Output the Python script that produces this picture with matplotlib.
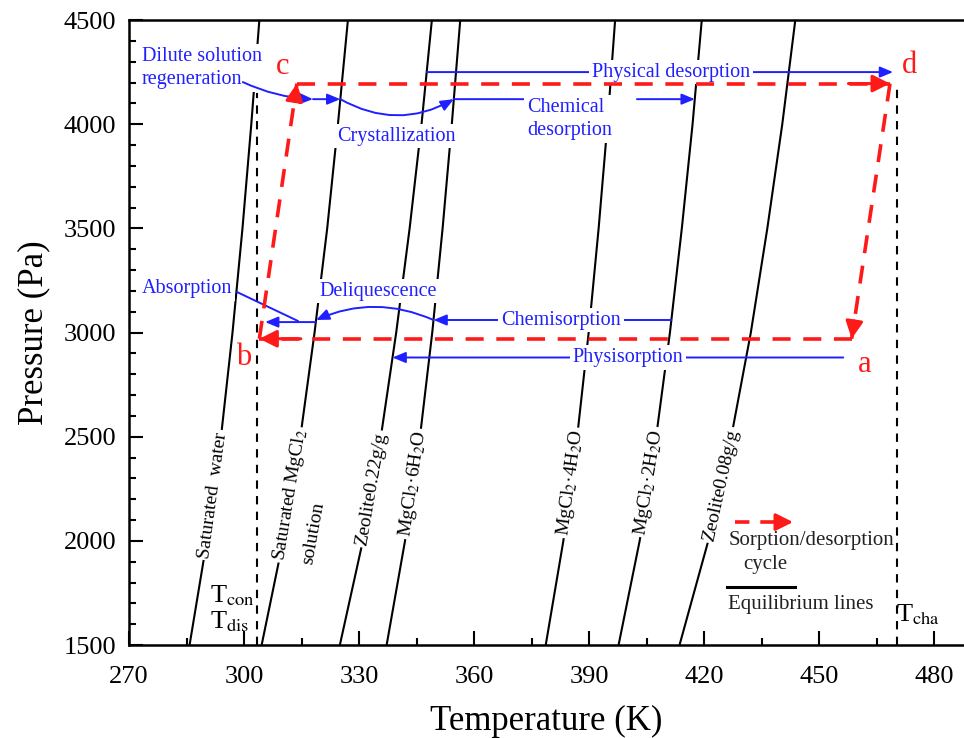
import numpy as np
import matplotlib
matplotlib.use("Agg")
import matplotlib.pyplot as plt
from matplotlib.ticker import MultipleLocator

plt.rcParams["font.family"] = ["Liberation Serif", "DejaVu Serif"]
plt.rcParams["mathtext.fontset"] = "stix"

# equilibrium lines, temperature (K) read at each pressure level (Pa)
pressure = [1500, 2000, 2500, 3000, 3500, 4000, 4500]
t_water = [285.8, 290.3, 294.0, 297.0, 299.6, 301.9, 304.0]
t_sat_mgcl2 = [304.6, 310.2, 314.7, 318.4, 321.7, 324.5, 327.1]
t_zeolite022 = [325.0, 331.0, 335.7, 339.7, 343.2, 346.3, 349.0]
t_mgcl2_6h2o = [337.2, 342.0, 345.9, 349.1, 351.8, 354.2, 356.4]
t_mgcl2_4h2o = [378.7, 383.3, 386.9, 389.9, 392.5, 394.8, 396.8]
t_mgcl2_2h2o = [397.7, 403.2, 407.5, 411.1, 414.2, 417.0, 419.4]
t_zeolite008 = [413.6, 421.1, 427.1, 432.2, 436.5, 440.4, 443.8]

eq_lines = [t_water, t_sat_mgcl2, t_zeolite022, t_mgcl2_6h2o,
            t_mgcl2_4h2o, t_mgcl2_2h2o, t_zeolite008]
eq_names = ["Saturated  water", "Saturated MgCl$_2$", "Zeolite0.22g/g",
            "MgCl$_2$·6H$_2$O", "MgCl$_2$·4H$_2$O", "MgCl$_2$·2H$_2$O",
            "Zeolite0.08g/g"]
eq_label_p = [2220, 2220, 2249, 2273, 2278, 2282, 2268]

# sorption / desorption cycle a -> b -> c -> d -> a
cycle_names = ["a", "b", "c", "d"]
cycle_T = [458.5, 304.0, 313.8, 468.5]
cycle_P = [2970, 2970, 4195, 4195]

t_con = 303.3
t_cha = 470.3

p_physical_des = 4250
p_chemical_des = 4120
p_chemisorption = 3060
p_absorption = 3050
p_physisorption = 2880

blue = "#1f1fff"
red = "#ff1a1a"

fig = plt.figure(figsize=(9.64, 7.38), dpi=100)
ax = fig.add_axes([129 / 964, 93 / 738, 835 / 964, 625 / 738])
ax.set_xlim(270, 487.8)
ax.set_ylim(1500, 4500)

for s in ["left", "bottom", "top"]:
    ax.spines[s].set_linewidth(1.8)
ax.spines["right"].set_visible(False)

ax.xaxis.set_major_locator(MultipleLocator(30))
ax.xaxis.set_minor_locator(MultipleLocator(15))
ax.yaxis.set_major_locator(MultipleLocator(500))
ax.yaxis.set_minor_locator(MultipleLocator(100))
ax.tick_params(which="both", direction="in", top=False, right=False, width=1.5)
ax.tick_params(which="major", length=10, labelsize=19)
ax.tick_params(axis="x", which="major", pad=15)
ax.tick_params(axis="y", which="major", pad=9)
ax.tick_params(which="minor", length=5)
ax.set_xlabel("Temperature (K)", fontsize=25, labelpad=12)
ax.set_ylabel("Pressure (Pa)", fontsize=25, labelpad=10)


def on_line(ts, p):
    return float(np.interp(p, pressure, ts))


def line_angle(ts, p):
    x0, y0 = ax.transData.transform((on_line(ts, p - 150), p - 150))
    x1, y1 = ax.transData.transform((on_line(ts, p + 150), p + 150))
    return np.degrees(np.arctan2(y1 - y0, x1 - x0))


# equilibrium lines with their labels
for ts, name, lp in zip(eq_lines, eq_names, eq_label_p):
    ax.plot(ts, pressure, color="black", lw=1.5, zorder=1)
    ax.text(on_line(ts, lp), lp, name, rotation=line_angle(ts, lp),
            rotation_mode="anchor", ha="center", va="center", fontsize=14,
            bbox=dict(facecolor="white", edgecolor="none", pad=1.5), zorder=3)
ax.text(318.0, 2038, "solution", rotation=line_angle(t_sat_mgcl2, 2038),
        rotation_mode="anchor", ha="center", va="center", fontsize=14, zorder=3)

# condensation / charging temperatures
ax.plot([t_con, t_con], [1500, 4150], color="black", lw=1.5,
        dashes=(4, 3.5), zorder=1)
ax.plot([t_cha, t_cha], [1500, cycle_P[3]], color="black", lw=1.5,
        dashes=(4, 3.5), zorder=1)
ax.text(296.9, 1735, r"T$_{\rm con}$", fontsize=19, ha="center", va="center")
ax.text(296.3, 1610, r"T$_{\rm dis}$", fontsize=19, ha="center", va="center")
ax.text(475.8, 1644, r"T$_{\rm cha}$", fontsize=19, ha="center", va="center")


# red cycle
def red_arrow(x0, y0, x1, y1):
    ax.plot([x0, x1], [y0, y1], color=red, lw=2.6, dashes=(5, 3.5), zorder=4)
    bx = x1 - 0.07 * (x1 - x0)
    by = y1 - 0.07 * (y1 - y0)
    ax.annotate("", xy=(x1, y1), xytext=(bx, by), zorder=4,
                arrowprops=dict(arrowstyle="-|>,head_length=0.7,head_width=0.35",
                                color=red, lw=2.2, mutation_scale=15,
                                shrinkA=0, shrinkB=0))


for i in range(4):
    j = (i + 1) % 4
    red_arrow(cycle_T[i], cycle_P[i], cycle_T[j], cycle_P[j])

letter_pos = [(462.0, 2844), (300.0, 2882), (310.2, 4275), (473.5, 4284)]
for name, (lx, ly) in zip(cycle_names, letter_pos):
    ax.text(lx, ly, name, color=red, fontsize=22, ha="center", va="center",
            zorder=5)


# blue process arrows
def blue_arrow(x0, y0, x1, y1, rad=0.0, head=True, z=2.5):
    style = "-|>,head_length=0.6,head_width=0.25" if head else "-"
    ax.annotate("", xy=(x1, y1), xytext=(x0, y0), zorder=z,
                arrowprops=dict(arrowstyle=style, color=blue, lw=1.4,
                                mutation_scale=13, shrinkA=0, shrinkB=0,
                                connectionstyle="arc3,rad=%s" % rad))


def blue_text(x, y, s, ha="center"):
    ax.text(x, y, s, color=blue, fontsize=14.5, ha=ha, va="center",
            multialignment="left", linespacing=1.3, zorder=3,
            bbox=dict(facecolor="white", edgecolor="none", pad=2))


# desorption side (top)
blue_arrow(on_line(t_zeolite022, p_physical_des), p_physical_des,
           469.3, p_physical_des)
blue_text(411.4, p_physical_des, "Physical desorption")

blue_arrow(on_line(t_mgcl2_6h2o, p_chemical_des), p_chemical_des,
           373.0, p_chemical_des, head=False)
blue_arrow(402.5, p_chemical_des,
           on_line(t_mgcl2_2h2o, p_chemical_des), p_chemical_des)
blue_text(373.8, 4025, "Chemical\ndesorption", ha="left")

blue_arrow(299.7, 4202, 318.0, p_chemical_des, rad=0.1, z=3.5)
blue_arrow(318.0, p_chemical_des, on_line(t_sat_mgcl2, p_chemical_des),
           p_chemical_des)
blue_arrow(on_line(t_sat_mgcl2, p_chemical_des), p_chemical_des,
           on_line(t_mgcl2_6h2o, p_chemical_des), p_chemical_des, rad=0.28)
blue_text(339.7, 3943, "Crystallization")
blue_text(273.4, 4268, "Dilute solution\nregeneration", ha="left")

# sorption side (bottom)
blue_arrow(456.3, p_physisorption, on_line(t_zeolite022, p_physisorption),
           p_physisorption)
blue_text(400.2, p_physisorption, "Physisorption")

blue_arrow(on_line(t_mgcl2_2h2o, p_chemisorption), p_chemisorption,
           on_line(t_mgcl2_6h2o, p_chemisorption), p_chemisorption)
blue_text(382.7, p_chemisorption, "Chemisorption")

blue_arrow(on_line(t_mgcl2_6h2o, p_chemisorption), p_chemisorption,
           on_line(t_sat_mgcl2, p_chemisorption), p_chemisorption, rad=0.22)
blue_text(335.0, 3199, "Deliquescence")

blue_arrow(on_line(t_sat_mgcl2, p_absorption), p_absorption, 305.5, p_absorption)
blue_arrow(298.2, 3194, 314.1, 3055, head=False, z=3.5)
blue_text(273.4, 3209, "Absorption", ha="left")

# hand drawn legend
ax.plot([428.1, 441.0], [2090, 2090], color=red, lw=2.6, dashes=(4, 3), zorder=4)
ax.annotate("", xy=(443.2, 2090), xytext=(440.0, 2090), zorder=4,
            arrowprops=dict(arrowstyle="-|>,head_length=0.7,head_width=0.35",
                            color=red, lw=2.2, mutation_scale=15,
                            shrinkA=0, shrinkB=0))
ax.text(426.3, 2004, "Sorption/desorption", fontsize=15, color="#222222",
        ha="left", va="center")
ax.text(430.2, 1884, "cycle", fontsize=15, color="#222222", ha="left", va="center")
ax.plot([426.0, 443.75], [1778, 1778], color="black", lw=2.2)
ax.text(426.3, 1692, "Equilibrium lines", fontsize=15, color="#222222",
        ha="left", va="center")

fig.savefig("out.png", dpi=100)
